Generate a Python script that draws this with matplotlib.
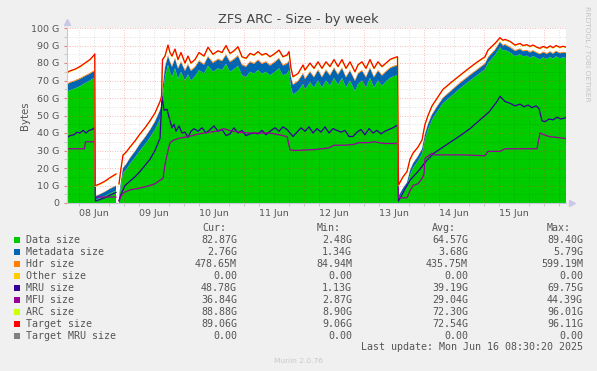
import numpy as np
import matplotlib
matplotlib.use("Agg")
import matplotlib.pyplot as plt
from matplotlib.patches import Rectangle

nan = float("nan")

# ---- time (hours since 08 Jun 00:00) for stacked series ----
hours = [1.2, 2.4, 4.4, 6.4, 8.4, 10.4, 12.0, 12.3,
         12.5, 14.4, 16.4, 18.4, 20.8,
         21.2,
         22.0, 22.8, 23.6, 24.8, 26.4, 28.4, 30.4, 32.4, 34.4, 36.4, 38.4, 39.0, 39.4, 40.4, 41.6,
         42.4, 43.2, 44.4, 45.6, 46.8, 48.4, 49.6, 50.8, 52.4, 54.0,
         56.0, 57.6, 59.6, 61.6, 63.2, 64.8, 66.4, 68.0, 69.6, 71.2,
         72.8, 74.4, 76.0, 77.6, 79.2, 80.8, 82.4, 84.4, 86.0, 87.6,
         89.2, 90.0, 90.8, 91.6, 93.6, 95.6, 96.4, 98.4, 100.0, 101.6,
         103.2, 104.8, 106.4, 108.0, 109.6, 111.2, 112.8, 114.4, 116.4, 117.6,
         119.2, 120.8, 122.4, 124.0, 125.6, 127.2, 128.8, 130.4, 132.0, 133.4,
         133.8, 135.6, 137.2, 138.4, 139.6, 141.6, 143.2, 144.4, 145.6, 147.2,
         149.2, 151.6, 155.2, 158.4, 162.4, 165.2, 168.4, 169.6, 172.4, 174.4,
         175.6, 176.4, 178.4, 180.4, 182.4, 183.6, 185.2, 186.4, 187.6, 189.2,
         190.4, 191.6, 193.2, 194.4, 195.6, 196.8, 198.4, 199.6, 200.8]

target_size = [74.5, 75.5, 76.5, 78.0, 80.0, 82.0, 84.5, 85.2,
               9.9, 11.0, 12.5, 14.5, 16.6,
               nan,
               11.0, 19.8, 27.4, 29.0, 32.0, 35.5, 39.5, 43.0, 47.0, 51.5, 58.0, 61.0, 82.0, 84.0, 90.3,
               86.0, 84.0, 88.0, 82.0, 86.0, 80.0, 84.0, 80.0, 82.0, 86.0,
               84.0, 89.0, 85.0, 87.0, 86.0, 90.0, 85.5, 87.0, 89.3, 83.6,
               82.7, 85.5, 84.6, 86.5, 84.6, 85.5, 83.6, 85.5, 87.4, 83.6,
               84.6, 86.5, 77.0, 72.2, 74.0, 78.9, 76.0, 80.0, 77.0, 80.7,
               77.0, 80.7, 78.0, 82.0, 78.0, 82.0, 77.0, 80.7, 75.0, 79.0,
               80.7, 77.0, 82.0, 77.0, 80.7, 78.0, 80.0, 82.0, 83.0, 83.6,
               10.3, 15.0, 18.0, 25.0, 28.5, 32.0, 36.0, 45.0, 50.0, 55.5,
               59.8, 65.0, 69.3, 73.0, 77.5, 80.5, 83.6, 87.4, 91.2, 94.5,
               93.0, 93.5, 92.4, 90.3, 91.2, 90.0, 90.5, 89.5, 90.3, 89.0,
               88.4, 89.5, 88.6, 89.8, 88.8, 90.0, 89.0, 89.6, 89.06]

arc_size = [74.2, 75.2, 76.2, 77.7, 79.7, 81.7, 84.2, 84.9,
            9.5, 10.7, 12.2, 14.2, 16.3,
            nan,
            10.6, 19.4, 27.0, 28.7, 31.7, 35.2, 39.2, 42.7, 46.7, 51.2, 57.7, 60.6, 81.5, 83.7, 90.0,
            85.7, 83.7, 87.7, 81.7, 85.7, 79.7, 83.7, 79.7, 81.7, 85.7,
            83.7, 88.7, 84.7, 86.7, 85.7, 89.7, 85.2, 86.7, 89.0, 83.3,
            82.4, 85.2, 84.3, 86.2, 84.3, 85.2, 83.3, 85.2, 87.1, 83.3,
            84.3, 86.2, 76.7, 71.9, 73.7, 78.6, 75.7, 79.7, 76.7, 80.4,
            76.7, 80.4, 77.7, 81.7, 77.7, 81.7, 76.7, 80.4, 74.7, 78.7,
            80.4, 76.7, 81.7, 76.7, 80.4, 77.7, 79.7, 81.7, 82.7, 83.3,
            9.9, 14.6, 17.6, 24.6, 28.2, 31.7, 35.7, 44.6, 49.6, 55.2,
            59.5, 64.7, 69.0, 72.7, 77.2, 80.2, 83.3, 87.1, 90.9, 94.2,
            92.7, 93.2, 92.1, 90.0, 90.9, 89.7, 90.2, 89.2, 90.0, 88.7,
            88.1, 89.2, 88.3, 89.5, 88.5, 89.7, 88.7, 89.3, 88.88]

data_size = [63.6, 64.5, 65.5, 66.8, 68.5, 70.0, 71.5, 72.0,
             1.7, 2.8, 4.0, 5.5, 7.0,
             nan,
             2.0, 10.0, 17.0, 19.0, 22.5, 26.0, 30.0, 33.5, 37.5, 42.0, 48.0, 50.5, 60.0, 72.0, 79.0,
             75.0, 72.0, 77.0, 71.0, 75.0, 70.0, 73.5, 70.0, 72.5, 76.0,
             74.0, 78.5, 75.0, 77.0, 76.0, 79.5, 75.0, 76.5, 78.5, 73.0,
             72.0, 75.0, 74.0, 76.0, 74.0, 75.0, 73.0, 75.0, 77.0, 73.0,
             74.0, 76.0, 66.0, 62.0, 64.0, 68.0, 65.0, 69.0, 66.0, 70.0,
             66.0, 70.0, 67.0, 71.5, 67.5, 71.5, 66.0, 70.0, 64.0, 68.0,
             70.0, 66.0, 71.5, 66.0, 70.0, 67.0, 69.5, 71.5, 72.5, 73.0,
             2.5, 6.5, 9.5, 16.0, 20.0, 24.0, 28.0, 36.5, 42.0, 47.5,
             52.0, 57.0, 61.5, 65.5, 70.0, 73.0, 76.5, 80.0, 84.5, 89.0,
             87.0, 87.5, 86.0, 84.0, 85.0, 83.8, 84.2, 83.0, 84.0, 82.8,
             82.0, 83.2, 82.3, 83.5, 82.5, 83.8, 82.7, 83.2, 82.87]

metadata_size = [4.2, 4.2, 4.2, 4.1, 4.0, 3.9, 3.8, 3.8,
                 2.0, 2.2, 2.4, 2.6, 2.8,
                 nan,
                 1.5, 2.5, 3.0, 3.0, 3.2, 3.5, 3.8, 4.0, 4.2, 4.5, 5.0, 5.0, 5.5, 5.5, 5.0,
                 5.5, 5.8, 5.5, 5.8, 5.5, 5.5, 5.5, 5.5, 5.0, 5.0,
                 5.0, 5.0, 5.0, 5.0, 5.0, 5.0, 5.5, 5.5, 5.5, 5.8,
                 5.8, 5.5, 5.5, 5.5, 5.5, 5.5, 5.5, 5.5, 5.5, 5.5,
                 5.5, 5.0, 5.8, 5.5, 5.5, 5.8, 5.8, 5.8, 5.8, 5.8,
                 5.8, 5.8, 5.8, 5.5, 5.8, 5.5, 5.8, 5.5, 5.8, 5.8,
                 5.5, 5.8, 5.5, 5.8, 5.5, 5.8, 5.5, 5.5, 5.5, 5.5,
                 1.4, 2.0, 2.2, 2.5, 2.6, 2.7, 2.8, 2.9, 3.0, 3.0,
                 3.0, 3.0, 3.0, 3.0, 3.0, 3.0, 3.0, 3.0, 2.9, 2.9,
                 2.9, 2.9, 2.9, 2.9, 2.9, 2.9, 2.9, 3.0, 2.9, 2.9,
                 3.0, 2.9, 2.9, 2.8, 2.8, 2.8, 2.8, 2.8, 2.76]

hdr_size = [0.50, 0.50, 0.50, 0.50, 0.50, 0.50, 0.50, 0.50,
            0.15, 0.15, 0.20, 0.20, 0.20,
            nan,
            0.10, 0.15, 0.20, 0.20, 0.25, 0.25, 0.30, 0.30, 0.35, 0.35, 0.40, 0.40, 0.45, 0.50, 0.55,
            0.55, 0.55, 0.55, 0.55, 0.55, 0.55, 0.55, 0.55, 0.55, 0.55,
            0.55, 0.55, 0.55, 0.55, 0.55, 0.55, 0.55, 0.55, 0.55, 0.55,
            0.55, 0.55, 0.55, 0.55, 0.55, 0.55, 0.55, 0.55, 0.55, 0.55,
            0.55, 0.55, 0.55, 0.55, 0.55, 0.55, 0.55, 0.55, 0.55, 0.55,
            0.55, 0.55, 0.55, 0.55, 0.55, 0.55, 0.55, 0.55, 0.55, 0.55,
            0.55, 0.55, 0.55, 0.55, 0.55, 0.55, 0.55, 0.55, 0.55, 0.55,
            0.08, 0.12, 0.15, 0.20, 0.22, 0.25, 0.28, 0.32, 0.35, 0.38,
            0.40, 0.42, 0.44, 0.45, 0.46, 0.47, 0.47, 0.48, 0.48, 0.48,
            0.48, 0.48, 0.48, 0.48, 0.48, 0.48, 0.48, 0.48, 0.48, 0.48,
            0.48, 0.48, 0.48, 0.48, 0.48, 0.48, 0.48, 0.48, 0.48]

# ---- MRU ----
mru_hours = [1.2, 2.4, 4.0, 5.2, 6.4, 7.6, 8.8, 10.0, 11.2, 12.2,
             12.6, 14.4, 16.4, 18.4, 20.8, 21.2,
             22.0, 22.8, 24.4, 26.4, 28.4, 30.4, 32.4, 34.4, 36.4, 38.4,
             39.2, 40.0, 41.2, 42.4, 43.2, 44.0, 44.8, 46.0, 47.2, 48.4,
             49.6, 50.8, 52.0, 53.6, 55.2, 56.8, 58.4, 60.0, 61.6, 63.2,
             64.8, 66.4, 68.0, 69.6, 71.2, 72.8, 74.4, 76.0, 77.6, 79.2,
             80.8, 82.4, 84.4, 86.0, 87.6, 89.2, 90.4, 91.6, 93.2, 94.8,
             96.4, 98.0, 99.6, 101.2, 102.8, 104.4, 106.0, 107.6, 109.2, 110.8,
             112.4, 114.0, 115.6, 117.2, 118.8, 120.4, 122.0, 123.6, 125.2, 126.8,
             128.4, 130.0, 131.6, 133.4,
             133.8, 136.0, 138.4, 141.6, 145.2, 148.0, 153.2, 158.0, 162.4, 166.0,
             170.0, 173.2, 174.4, 176.4, 178.4, 180.4, 182.4, 184.0, 185.6, 187.2,
             188.8, 190.0, 191.2, 192.4, 194.0, 195.6, 197.2, 198.8, 200.8]
mru_size = [37.5, 38.5, 39.0, 40.5, 40.0, 41.5, 40.0, 41.5, 42.0, 43.0,
            1.1, 2.0, 3.0, 4.5, 6.0, nan,
            1.5, 5.0, 10.0, 12.5, 15.0, 18.0, 21.5, 25.0, 30.0, 37.0,
            61.0, 53.0, 53.5, 47.0, 43.0, 45.0, 41.0, 44.0, 40.0, 40.5,
            37.5, 41.0, 42.5, 41.0, 43.0, 40.0, 42.0, 44.0, 41.0, 42.0,
            38.5, 39.5, 43.0, 40.0, 41.5, 38.5, 39.5, 40.0, 39.5, 41.5,
            39.0, 41.0, 43.0, 41.0, 43.5, 42.0, 40.0, 38.0, 40.5, 43.0,
            41.0, 43.5, 40.0, 42.5, 40.5, 43.5, 40.0, 42.5, 41.5, 40.5,
            41.5, 38.0, 38.0, 40.5, 42.0, 39.0, 42.5, 40.0, 41.5, 39.5,
            41.0, 42.0, 43.0, 44.5,
            1.1, 7.0, 13.0, 18.0, 24.5, 28.5, 33.5, 38.0, 42.5, 47.0,
            52.0, 58.0, 61.0, 58.0, 57.0, 55.5, 56.5, 55.0, 56.0, 54.5,
            55.5, 54.0, 47.0, 46.5, 48.0, 47.5, 49.0, 48.0, 48.78]

# ---- MFU ----
mfu_hours = [1.2, 8.2, 8.6, 12.2,
             12.6, 20.8, 21.2,
             22.0, 22.8, 24.0, 26.4, 30.4, 34.4, 36.4, 38.4, 39.6, 40.4, 41.6,
             42.4, 44.0, 46.0, 50.0, 54.0, 58.0, 61.0, 64.0, 66.0, 70.0,
             74.0, 78.0, 82.0, 86.0, 89.2, 90.4, 92.0, 100.0, 106.0, 108.0,
             112.0, 116.0, 118.0, 122.0, 124.0, 128.0, 133.4,
             133.8, 137.2, 138.4, 139.6, 141.6, 143.2, 144.0, 144.4, 147.2, 148.0,
             160.0, 168.4, 169.6, 174.4, 176.4, 189.2, 190.4, 192.0, 194.0, 200.8]
mfu_size = [31.0, 31.0, 35.0, 35.0,
            3.4, 3.4, nan,
            1.0, 4.0, 6.0, 7.5, 8.5, 10.0, 11.0, 13.0, 14.0, 22.0, 30.0,
            34.5, 36.0, 37.0, 38.0, 39.5, 40.5, 41.0, 42.5, 41.5, 40.5,
            40.0, 40.0, 40.0, 39.0, 38.0, 30.5, 30.0, 30.5, 31.5, 33.0,
            33.0, 33.5, 34.5, 34.5, 35.0, 34.0, 34.0,
            2.9, 3.0, 7.0, 10.0, 11.0, 14.0, 16.5, 25.5, 28.5, 27.5,
            27.5, 27.0, 29.5, 29.5, 31.0, 31.0, 40.0, 39.0, 38.0, 36.84]

day_labels = ["08 Jun", "09 Jun", "10 Jun", "11 Jun", "12 Jun", "13 Jun", "14 Jun", "15 Jun"]
y_ticks = [0, 10, 20, 30, 40, 50, 60, 70, 80, 90, 100]
y_tick_labels = ["0", "10 G", "20 G", "30 G", "40 G", "50 G", "60 G", "70 G", "80 G", "90 G", "100 G"]

legend_names = ["Data size", "Metadata size", "Hdr size", "Other size", "MRU size",
                "MFU size", "ARC size", "Target size", "Target MRU size"]
legend_colors = ["#00CC00", "#0066B3", "#FF8000", "#FFCC00", "#330099",
                 "#990099", "#CCFF00", "#FF0000", "#808080"]
cur_vals = ["82.87G", "2.76G", "478.65M", "0.00", "48.78G", "36.84G", "88.88G", "89.06G", "0.00"]
min_vals = ["2.48G", "1.34G", "84.94M", "0.00", "1.13G", "2.87G", "8.90G", "9.06G", "0.00"]
avg_vals = ["64.57G", "3.68G", "435.75M", "0.00", "39.19G", "29.04G", "72.30G", "72.54G", "0.00"]
max_vals = ["89.40G", "5.79G", "599.19M", "0.00", "69.75G", "44.39G", "96.01G", "96.11G", "0.00"]

for arr in (target_size, arc_size, data_size, metadata_size, hdr_size):
    assert len(arr) == len(hours), len(arr)
assert len(mru_hours) == len(mru_size)
assert len(mfu_hours) == len(mfu_size)

W, H = 597, 371
fig = plt.figure(figsize=(W / 100, H / 100), dpi=100, facecolor="#F0F0F0")

def fx(x):
    return x / W

def fy(y):
    return 1 - y / H

ax = fig.add_axes([fx(67), fy(203), (566 - 67) / W, (203 - 28) / H])
ax.set_facecolor("white")
ax.set_xlim(1.2, 200.8)
ax.set_ylim(0, 100)

h = np.array(hours)
ax.stackplot(h, np.array(data_size), np.array(metadata_size), np.array(hdr_size),
             colors=legend_colors[:3], linewidth=0, zorder=2)
ax.plot(mru_hours, mru_size, color=legend_colors[4], lw=0.9, zorder=4)
ax.plot(mfu_hours, mfu_size, color=legend_colors[5], lw=0.9, zorder=4)
ax.plot(h, arc_size, color=legend_colors[6], lw=0.9, zorder=4)
ax.plot(h, target_size, color=legend_colors[7], lw=0.9, zorder=5)

# grid (drawn over the areas, as rrdtool does)
dot = (0, (1, 2))
for v in range(5, 100, 10):
    ax.axhline(v, color=(0, 0, 0, 0.16), lw=0.6, ls=dot, zorder=3)
for v in range(10, 101, 10):
    ax.axhline(v, color=(0.9, 0.2, 0.2, 0.45), lw=0.6, ls=dot, zorder=3)
for t in range(6, 200, 6):
    if t % 24:
        ax.axvline(t, color=(0, 0, 0, 0.16), lw=0.6, ls=dot, zorder=3)
for t in range(24, 200, 24):
    ax.axvline(t, color=(0.9, 0.2, 0.2, 0.45), lw=0.6, ls=dot, zorder=3)

for s in ("top", "right"):
    ax.spines[s].set_visible(False)
for s in ("left", "bottom"):
    ax.spines[s].set_color("#C8C8DC")
    ax.spines[s].set_linewidth(0.8)
    ax.spines[s].set_zorder(6)

ax.set_yticks(y_ticks)
ax.set_yticklabels(y_tick_labels)
ax.set_yticks(range(5, 100, 10), minor=True)
ax.set_xticks([12 + 24 * k for k in range(len(day_labels))])
ax.set_xticklabels(day_labels)
ax.set_xticks(range(6, 200, 6), minor=True)
ax.tick_params(axis="both", which="major", labelsize=6.8, labelcolor="#555555")
ax.tick_params(axis="x", which="major", length=0, pad=4)
ax.tick_params(axis="y", which="major", length=2.5, color="#E08080", pad=3)
ax.tick_params(axis="both", which="minor", length=2, color="#C0C0C0")

# axis arrows
ax.plot([0], [1.035], marker="^", ms=4, color="#C8C8E8", transform=ax.transAxes, clip_on=False, zorder=7)
ax.plot([1.012], [0], marker=">", ms=4, color="#C8C8E8", transform=ax.transAxes, clip_on=False, zorder=7)

fig.text(fx(298), fy(20), "ZFS ARC - Size - by week", ha="center", va="center",
         fontsize=9.3, color="#444444")
fig.text(fx(25), fy(116), "Bytes", ha="center", va="center", rotation=90,
         fontsize=7.3, color="#555555")
fig.text(fx(587), fy(54), "RRDTOOL / TOBI OETIKER", ha="center", va="center", rotation=270,
         fontsize=5.4, color="#C4C4C4")

mono = "DejaVu Sans Mono"
fs = 7.2
tc = "#555555"
fig.text(fx(202), fy(228), "Cur:", ha="left", va="center", fontsize=fs, family=mono, color=tc)
fig.text(fx(317), fy(228), "Min:", ha="left", va="center", fontsize=fs, family=mono, color=tc)
fig.text(fx(432), fy(228), "Avg:", ha="left", va="center", fontsize=fs, family=mono, color=tc)
fig.text(fx(547), fy(228), "Max:", ha="left", va="center", fontsize=fs, family=mono, color=tc)
for i, name in enumerate(legend_names):
    yy = 240 + 12 * i
    fig.patches.append(Rectangle((fx(14), fy(yy + 3)), 6 / W, 6 / H, transform=fig.transFigure,
                                 facecolor=legend_colors[i], edgecolor="none"))
    fig.text(fx(26), fy(yy), name, ha="left", va="center", fontsize=fs, family=mono, color=tc)
    fig.text(fx(237), fy(yy), cur_vals[i], ha="right", va="center", fontsize=fs, family=mono, color=tc)
    fig.text(fx(352), fy(yy), min_vals[i], ha="right", va="center", fontsize=fs, family=mono, color=tc)
    fig.text(fx(468), fy(yy), avg_vals[i], ha="right", va="center", fontsize=fs, family=mono, color=tc)
    fig.text(fx(583), fy(yy), max_vals[i], ha="right", va="center", fontsize=fs, family=mono, color=tc)

fig.text(fx(583), fy(347), "Last update: Mon Jun 16 08:30:20 2025", ha="right", va="center",
         fontsize=fs, family=mono, color=tc)
fig.text(fx(298), fy(361), "Munin 2.0.76", ha="center", va="center", fontsize=5.4, color="#C8C8C8")

fig.savefig("out.png", dpi=100, facecolor=fig.get_facecolor())
